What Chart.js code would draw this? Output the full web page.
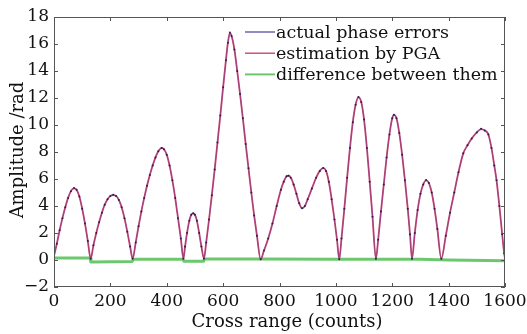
<!DOCTYPE html>
<html>
<head>
<meta charset="utf-8">
<script src="https://cdn.jsdelivr.net/npm/chart.js@4.4.1/dist/chart.umd.min.js"></script>
<style>
  html, body { margin: 0; padding: 0; background: #ffffff; }
  #wrap { width: 527px; height: 334px; position: relative; }
</style>
</head>
<body>
<div id="wrap"><canvas id="c" width="527" height="334"></canvas></div>
<script>
// ---- data ----
const seriesLabels = ['actual phase errors', 'estimation by PGA', 'difference between them'];

const rangeCounts = [
  0, 10, 20, 30, 40, 50, 60, 71, 80, 90, 100, 110, 120, 130,
  140, 150, 160, 170, 180, 190, 200, 210, 220, 230, 240, 250, 260, 270, 279,
  290, 300, 310, 320, 330, 340, 350, 360, 370, 382, 390, 400, 410, 420, 430, 440, 450, 459,
  465, 472, 480, 487, 494, 500, 507, 515, 523, 532,
  540, 550, 560, 570, 580, 590, 600, 610, 617, 624, 630, 640, 650, 660, 670, 680, 690, 700, 710, 720, 733,
  745, 760, 775, 790, 805, 815, 825, 832, 840, 850, 860, 870, 880, 890, 900, 915, 930, 943, 955, 965, 975, 985, 995, 1004, 1012,
  1020, 1030, 1040, 1050, 1060, 1070, 1080, 1090, 1100, 1110, 1120, 1130, 1142,
  1150, 1160, 1170, 1180, 1190, 1200, 1206, 1215, 1225, 1235, 1245, 1255, 1263, 1270,
  1280, 1290, 1300, 1310, 1320, 1330, 1340, 1350, 1360, 1374,
  1390, 1405, 1420, 1435, 1452, 1467, 1482, 1500, 1515, 1528, 1541, 1552, 1562, 1570, 1580, 1590, 1597, 1600
];

const actualPhase = [
  0.3, 1.2, 2.2, 3.1, 3.9, 4.6, 5.1, 5.33, 5.2, 4.7, 3.8, 2.7, 1.4, 0.1,
  1.1, 2.0, 2.8, 3.5, 4.1, 4.5, 4.75, 4.83, 4.75, 4.45, 3.9, 3.1, 2.1, 1.0, 0.1,
  1.3, 2.5, 3.6, 4.6, 5.5, 6.3, 7.0, 7.6, 8.05, 8.3, 8.2, 7.8, 7.0, 5.9, 4.6, 3.1, 1.6, 0.1,
  1.0, 2.0, 2.9, 3.35, 3.47, 3.35, 2.9, 2.0, 1.0, 0.1,
  1.3, 3.0, 4.8, 6.7, 8.7, 10.7, 12.8, 14.8, 16.1, 16.85, 16.6, 15.6, 14.0, 12.3, 10.5, 8.6, 6.8, 5.0, 3.3, 1.8, 0.05,
  0.7, 1.6, 2.7, 4.0, 5.2, 5.8, 6.2, 6.25, 6.1, 5.6, 4.9, 4.2, 3.84, 4.0, 4.5, 5.3, 6.1, 6.6, 6.82, 6.6, 5.8, 4.5, 3.0, 1.5, 0.05,
  1.6, 3.8, 6.1, 8.3, 10.2, 11.5, 12.07, 11.7, 10.4, 8.3, 5.8, 3.2, 0.1,
  1.5, 3.6, 5.6, 7.6, 9.3, 10.5, 10.76, 10.5, 9.4, 7.8, 5.9, 3.8, 1.9, 0.1,
  2.0, 3.7, 4.9, 5.6, 5.92, 5.7, 5.0, 3.8, 2.3, 0.1,
  1.8, 3.5, 5.0, 6.5, 7.9, 8.5, 9.0, 9.45, 9.72, 9.6, 9.3, 8.3, 7.0, 5.9, 4.0, 1.9, 0.5, 0.1
];

const pgaEstimate = [
  0.3, 1.2, 2.2, 3.1, 3.9, 4.6, 5.1, 5.3, 5.2, 4.7, 3.8, 2.7, 1.4, 0.1,
  1.1, 2.0, 2.8, 3.5, 4.1, 4.5, 4.75, 4.8, 4.75, 4.45, 3.9, 3.1, 2.1, 1.0, 0.1,
  1.3, 2.5, 3.6, 4.6, 5.5, 6.3, 7.0, 7.6, 8.05, 8.3, 8.2, 7.8, 7.0, 5.9, 4.6, 3.1, 1.6, 0.1,
  1.0, 2.0, 2.9, 3.35, 3.45, 3.35, 2.9, 2.0, 1.0, 0.1,
  1.3, 3.0, 4.8, 6.7, 8.7, 10.7, 12.8, 14.8, 16.1, 16.8, 16.6, 15.6, 14.0, 12.3, 10.5, 8.6, 6.8, 5.0, 3.3, 1.8, 0.05,
  0.7, 1.6, 2.7, 4.0, 5.2, 5.8, 6.2, 6.25, 6.1, 5.6, 4.9, 4.2, 3.84, 4.0, 4.5, 5.3, 6.1, 6.6, 6.8, 6.6, 5.8, 4.5, 3.0, 1.5, 0.05,
  1.6, 3.8, 6.1, 8.3, 10.2, 11.5, 12.05, 11.7, 10.4, 8.3, 5.8, 3.2, 0.1,
  1.5, 3.6, 5.6, 7.6, 9.3, 10.5, 10.75, 10.5, 9.4, 7.8, 5.9, 3.8, 1.9, 0.1,
  2.0, 3.7, 4.9, 5.6, 5.9, 5.7, 5.0, 3.8, 2.3, 0.1,
  1.8, 3.5, 5.0, 6.5, 7.9, 8.5, 9.0, 9.45, 9.7, 9.6, 9.3, 8.3, 7.0, 5.9, 4.0, 1.9, 0.5, 0.1
];

const diffCounts = [0, 128, 131, 277, 281, 457, 461, 530, 534, 733, 1000, 1300, 1400, 1600];
const diffValues = [0.15, 0.15, -0.15, -0.12, 0.05, 0.05, -0.1, -0.1, 0.08, 0.08, 0.05, 0.05, 0.0, -0.05];

const xTicks = [0, 200, 400, 600, 800, 1000, 1200, 1400, 1600];
const yTicks = [-2, 0, 2, 4, 6, 8, 10, 12, 14, 16, 18];

const xTitle = 'Cross range (counts)';
const yTitle = 'Amplitude /rad';

// ---- build ----
const toPts = (xs, ys) => xs.map((x, i) => ({ x: x, y: ys[i] }));
const SERIF = '"DejaVu Serif", "Liberation Serif", serif';
const colors = ['#4a3f9c', '#cc4470', '#6cc86c'];

const framePlugin = {
  id: 'frame',
  afterDatasetsDraw(chart) {
    const { ctx, chartArea: a, scales } = chart;
    const xs = scales.x, ys = scales.y;
    ctx.save();
    ctx.strokeStyle = '#555555';
    ctx.lineWidth = 1;
    ctx.strokeRect(a.left + 0.5, a.top + 0.5, a.right - a.left - 1, a.bottom - a.top - 1);
    const L = 4;
    ctx.beginPath();
    xTicks.forEach(v => {
      const px = Math.round(xs.getPixelForValue(v)) + 0.5;
      ctx.moveTo(px, a.bottom); ctx.lineTo(px, a.bottom - L);
      ctx.moveTo(px, a.top); ctx.lineTo(px, a.top + L);
    });
    yTicks.forEach(v => {
      const py = Math.round(ys.getPixelForValue(v)) + 0.5;
      ctx.moveTo(a.left, py); ctx.lineTo(a.left + L, py);
      ctx.moveTo(a.right, py); ctx.lineTo(a.right - L, py);
    });
    ctx.stroke();

    // legend
    ctx.font = '17.5px ' + SERIF;
    ctx.textBaseline = 'middle';
    ctx.textAlign = 'left';
    const lx0 = 245, lx1 = 275, ly0 = 32, dy = 21.2;
    chart.data.datasets.forEach((ds, i) => {
      const yy = ly0 + i * dy;
      ctx.strokeStyle = ds.legendColor;
      ctx.lineWidth = ds.legendWidth;
      ctx.beginPath();
      ctx.moveTo(lx0, yy); ctx.lineTo(lx1, yy);
      ctx.stroke();
      ctx.fillStyle = '#111111';
      ctx.fillText(ds.label, lx1 + 1, yy + 1);
    });

    // axis titles
    ctx.font = '18px ' + SERIF;
    ctx.fillStyle = '#111111';
    ctx.textAlign = 'center';
    ctx.textBaseline = 'middle';
    ctx.fillText(xTitle, 287, 322);
    ctx.save();
    ctx.translate(18, 150);
    ctx.rotate(-Math.PI / 2);
    ctx.fillText(yTitle, 0, 0);
    ctx.restore();
    ctx.restore();
  }
};

new Chart(document.getElementById('c'), {
  type: 'line',
  data: {
    datasets: [
      {
        label: seriesLabels[0],
        data: toPts(rangeCounts, actualPhase),
        borderColor: 'rgba(74,63,156,0.45)',
        borderWidth: 0.8,
        pointRadius: 1,
        pointBackgroundColor: '#2a2150',
        pointBorderWidth: 0,
        cubicInterpolationMode: 'monotone',
        order: 1,
        legendColor: colors[0],
        legendWidth: 1.2
      },
      {
        label: seriesLabels[1],
        data: toPts(rangeCounts, pgaEstimate),
        borderColor: colors[1],
        borderWidth: 1.8,
        pointRadius: 0,
        cubicInterpolationMode: 'monotone',
        order: 2,
        legendColor: colors[1],
        legendWidth: 1.4
      },
      {
        label: seriesLabels[2],
        data: toPts(diffCounts, diffValues),
        borderColor: colors[2],
        borderWidth: 3,
        borderJoinStyle: 'round',
        pointRadius: 0,
        tension: 0,
        order: 3,
        legendColor: colors[2],
        legendWidth: 2
      }
    ]
  },
  options: {
    responsive: false,
    animation: false,
    devicePixelRatio: 1,
    layout: { padding: { left: 0, right: 22, top: 17, bottom: 0 } },
    plugins: { legend: { display: false }, tooltip: { enabled: false } },
    scales: {
      x: {
        type: 'linear',
        min: 0, max: 1600,
        afterBuildTicks: s => { s.ticks = xTicks.map(v => ({ value: v })); },
        afterFit: s => { s.height = 47; s.paddingLeft = 0; s.paddingRight = 0; },
        grid: { display: false, drawTicks: false },
        border: { display: false },
        ticks: { font: { family: SERIF, size: 17 }, color: '#111', padding: 4, maxRotation: 0, callback: v => String(v) },
        title: { display: false }
      },
      y: {
        type: 'linear',
        min: -2, max: 18,
        afterBuildTicks: s => { s.ticks = yTicks.map(v => ({ value: v })); },
        afterFit: s => { s.width = 54; s.paddingTop = 0; s.paddingBottom = 0; },
        grid: { display: false, drawTicks: false },
        border: { display: false },
        ticks: {
          font: { family: SERIF, size: 17 }, color: '#111', padding: 5,
          callback: v => (v < 0 ? '\u2212' + Math.abs(v) : String(v))
        },
        title: { display: false }
      }
    }
  },
  plugins: [framePlugin]
});
</script>
</body>
</html>
